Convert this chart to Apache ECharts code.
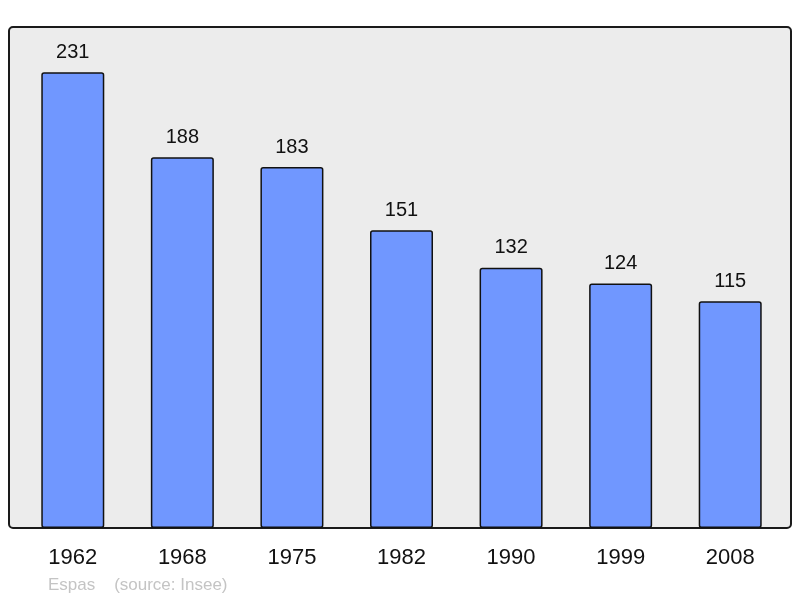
<!DOCTYPE html>
<html>
<head>
<meta charset="utf-8">
<script src="https://cdn.jsdelivr.net/npm/echarts@6/dist/echarts.min.js"></script>
<style>
  html, body { margin: 0; padding: 0; background: #fff; }
  #main { width: 800px; height: 598px; }
</style>
</head>
<body>
<div id="main"></div>
<script>
var years = ['1962', '1968', '1975', '1982', '1990', '1999', '2008'];
var population = [231, 188, 183, 151, 132, 124, 115];

var myChart = echarts.init(document.getElementById('main'));
var option = {
    animation: false,
    textStyle: { fontFamily: 'Liberation Sans, Arial, sans-serif' },
    graphic: [
        {
            type: 'rect',
            z: -1,
            shape: { x: 9, y: 27, width: 782, height: 501, r: 4 },
            style: { fill: '#ececec', stroke: '#1a1a1a', lineWidth: 2 }
        },
        {
            type: 'text',
            left: 48,
            top: 577,
            style: {
                text: 'Espas    (source: Insee)',
                fill: '#c4c4c4',
                font: '17px "Liberation Sans", Arial, sans-serif'
            }
        }
    ],
    grid: { left: 18, right: 15, top: 27, bottom: 70 },
    xAxis: {
        type: 'category',
        data: years,
        axisLine: { show: false },
        axisTick: { show: false },
        axisLabel: { color: '#111', fontSize: 22, margin: 19 }
    },
    yAxis: {
        type: 'value',
        min: 0,
        max: 254,
        show: false
    },
    series: [{
        type: 'bar',
        data: population,
        barWidth: 63,
        itemStyle: {
            color: '#7097ff',
            borderColor: '#111',
            borderWidth: 1.5,
            borderRadius: 2
        },
        label: {
            show: true,
            position: 'top',
            distance: 10,
            color: '#111',
            fontSize: 20
        }
    }]
};
myChart.setOption(option);
</script>
</body>
</html>
